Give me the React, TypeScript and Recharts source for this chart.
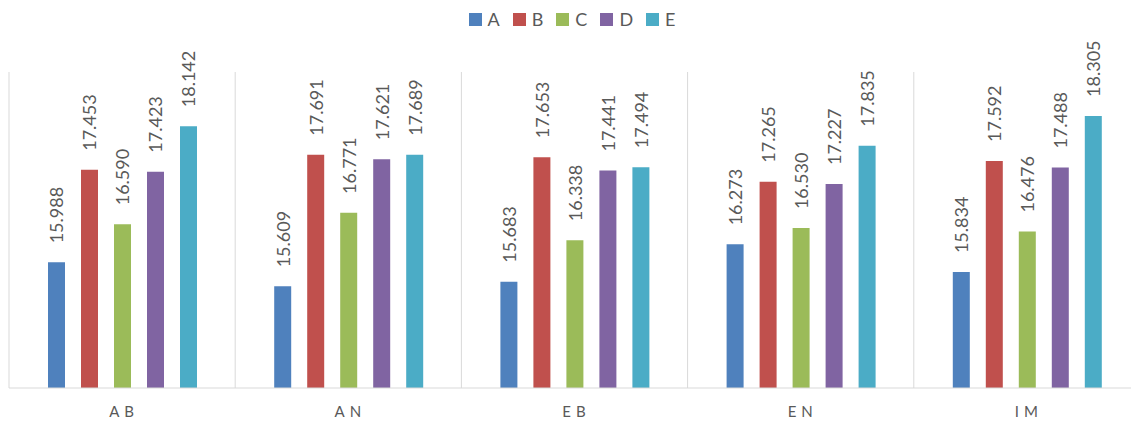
import { BarChart, Bar, XAxis, YAxis, CartesianGrid, Legend, LabelList } from "recharts";

const categories = ["AB", "AN", "EB", "EN", "IM"];
const seriesNames = ["A", "B", "C", "D", "E"];
const seriesA = [15.988, 15.609, 15.683, 16.273, 15.834];
const seriesB = [17.453, 17.691, 17.653, 17.265, 17.592];
const seriesC = [16.59, 16.771, 16.338, 16.53, 16.476];
const seriesD = [17.423, 17.621, 17.441, 17.227, 17.488];
const seriesE = [18.142, 17.689, 17.494, 17.835, 18.305];

const COLORS = ["#4f81bd", "#c0504d", "#9bbb59", "#8064a2", "#4bacc6"];
const FONT = "Lato, 'Open Sans', sans-serif";

const data = categories.map((name, i) => ({
  name,
  A: seriesA[i],
  B: seriesB[i],
  C: seriesC[i],
  D: seriesD[i],
  E: seriesE[i],
}));

const ValueLabel = ({ x, y, width, value }: any) => {
  const cx = x + width / 2;
  const ty = y - 19;
  return (
    <text
      x={cx}
      y={ty}
      transform={`rotate(-90 ${cx} ${ty})`}
      fill="#595959"
      fontSize={18}
      fontFamily={FONT}
      textAnchor="start"
      dominantBaseline="central"
    >
      {Number(value).toFixed(3)}
    </text>
  );
};

const CategoryTick = ({ x, y, payload }: any) => (
  <text
    x={x + 2}
    y={y}
    dy={21}
    fill="#595959"
    fontSize={15}
    fontFamily={FONT}
    textAnchor="middle"
    letterSpacing={5}
  >
    {payload.value}
  </text>
);

const LegendContent = () => (
  <div
    style={{
      display: "flex",
      justifyContent: "center",
      height: 30,
      fontFamily: FONT,
      fontSize: 18,
      color: "#595959",
      paddingLeft: 26,
    }}
  >
    {seriesNames.map((s, i) => (
      <div key={s} style={{ display: "flex", alignItems: "center", marginRight: 13 }}>
        <span style={{ width: 13, height: 13, background: COLORS[i], marginRight: 6, display: "inline-block" }} />
        <span>{s}</span>
      </div>
    ))}
  </div>
);

export default function App() {
  return (
    <div style={{ position: "fixed", left: 0, top: 0, width: 1131, height: 428, overflow: "hidden", background: "#fff" }}>
      <BarChart
        width={1150}
        height={428}
        data={data}
        margin={{ top: 42, right: 10, bottom: 10, left: 9 }}
        barCategoryGap={39}
        barGap={16}
      >
        <CartesianGrid
          horizontal={false}
          stroke="#d9d9d9"
          verticalCoordinatesGenerator={({ offset }: any) =>
            categories
              .map((_, i) => offset.left + (i * offset.width) / categories.length)
              .concat(offset.left + offset.width)
          }
        />
        <XAxis
          dataKey="name"
          height={30}
          axisLine={{ stroke: "#d9d9d9" }}
          tickLine={false}
          tick={<CategoryTick />}
        />
        <YAxis hide domain={[14, 19]} />
        <Legend
          verticalAlign="top"
          content={<LegendContent />}
          wrapperStyle={{ top: 4, left: 0, width: 1131 }}
        />
        {seriesNames.map((s, i) => (
          <Bar key={s} dataKey={s} fill={COLORS[i]} isAnimationActive={false}>
            <LabelList dataKey={s} content={<ValueLabel />} />
          </Bar>
        ))}
      </BarChart>
    </div>
  );
}
